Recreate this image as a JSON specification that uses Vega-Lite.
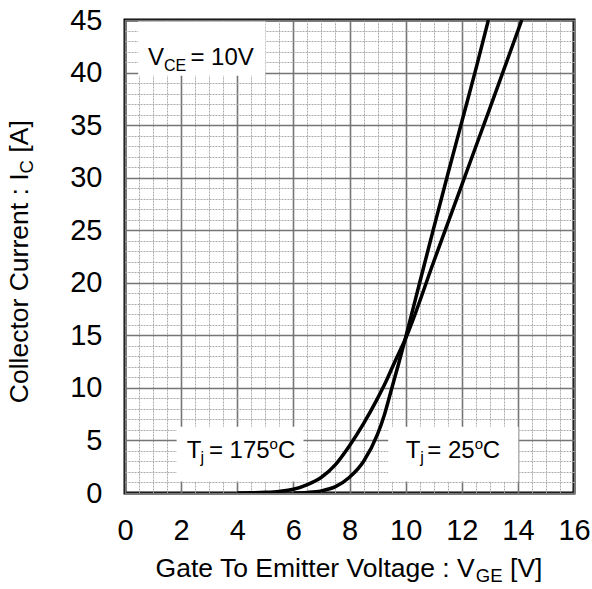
{
  "$schema": "https://vega.github.io/schema/vega-lite/v6.json",
  "width": 449,
  "height": 473,
  "autosize": {"type": "none"},
  "padding": {"left": 125, "top": 20, "right": 18, "bottom": 96},
  "background": "white",
  "config": {
    "view": {"stroke": "black", "strokeWidth": 3},
    "font": "Liberation Sans",
    "text": {"font": "Liberation Sans", "color": "black"}
  },
  "resolve": {"axis": {"x": "independent", "y": "independent"}},
  "datasets": {
    "curves": [
      {"series": "175", "vge": 4.0, "ic": 0},
      {"series": "175", "vge": 4.5, "ic": 0.02},
      {"series": "175", "vge": 5.0, "ic": 0.06},
      {"series": "175", "vge": 5.5, "ic": 0.15},
      {"series": "175", "vge": 6.0, "ic": 0.35},
      {"series": "175", "vge": 6.5, "ic": 0.8},
      {"series": "175", "vge": 7.0, "ic": 1.5},
      {"series": "175", "vge": 7.5, "ic": 2.7},
      {"series": "175", "vge": 8.0, "ic": 4.5},
      {"series": "175", "vge": 8.5, "ic": 6.6},
      {"series": "175", "vge": 9.0, "ic": 9.0},
      {"series": "175", "vge": 9.3, "ic": 10.6},
      {"series": "175", "vge": 9.6, "ic": 12.4},
      {"series": "175", "vge": 10.0, "ic": 14.7},
      {"series": "175", "vge": 11.0, "ic": 22.0},
      {"series": "175", "vge": 12.0, "ic": 29.3},
      {"series": "175", "vge": 13.0, "ic": 36.6},
      {"series": "175", "vge": 14.14, "ic": 45},
      {"series": "25", "vge": 6.0, "ic": 0},
      {"series": "25", "vge": 6.5, "ic": 0.05},
      {"series": "25", "vge": 7.0, "ic": 0.2},
      {"series": "25", "vge": 7.5, "ic": 0.6},
      {"series": "25", "vge": 8.0, "ic": 1.5},
      {"series": "25", "vge": 8.5, "ic": 3.0},
      {"series": "25", "vge": 9.0, "ic": 5.6},
      {"series": "25", "vge": 9.25, "ic": 7.5},
      {"series": "25", "vge": 9.5, "ic": 9.9},
      {"series": "25", "vge": 9.75, "ic": 12.3},
      {"series": "25", "vge": 10.0, "ic": 14.8},
      {"series": "25", "vge": 10.5, "ic": 20.0},
      {"series": "25", "vge": 11.0, "ic": 25.2},
      {"series": "25", "vge": 11.5, "ic": 30.3},
      {"series": "25", "vge": 12.0, "ic": 35.3},
      {"series": "25", "vge": 12.5, "ic": 40.3},
      {"series": "25", "vge": 12.95, "ic": 45}
    ],
    "boxes": [
      {"name": "vce", "x1": 0.47, "x2": 5.0, "y1": 39.7, "y2": 44.85},
      {"name": "t175", "x1": 1.84, "x2": 6.36, "y1": 1.1, "y2": 6.3},
      {"name": "t25", "x1": 9.38, "x2": 14.02, "y1": 1.1, "y2": 6.3}
    ],
    "labels": [
      {"x": 0.82, "y": 40.72, "text": "V", "role": "annot"},
      {"x": 1.39, "y": 40.15, "text": "CE", "role": "annot-sub"},
      {"x": 2.33, "y": 40.72, "text": "= 10V", "role": "annot"},
      {"x": 2.2, "y": 3.3, "text": "T", "role": "annot"},
      {"x": 2.69, "y": 2.83, "text": "j", "role": "annot-sub"},
      {"x": 2.99, "y": 3.3, "text": "= 175", "role": "annot"},
      {"x": 5.15, "y": 4.2, "text": "o", "role": "annot-sup"},
      {"x": 5.45, "y": 3.3, "text": "C", "role": "annot"},
      {"x": 10.0, "y": 3.3, "text": "T", "role": "annot"},
      {"x": 10.52, "y": 2.83, "text": "j", "role": "annot-sub"},
      {"x": 10.77, "y": 3.3, "text": "= 25", "role": "annot"},
      {"x": 12.46, "y": 4.2, "text": "o", "role": "annot-sup"},
      {"x": 12.75, "y": 3.3, "text": "C", "role": "annot"},
      {"x": 1.09, "y": -8.0, "text": "Gate To Emitter Voltage : V", "role": "xtitle"},
      {"x": 12.5, "y": -8.49, "text": "GE", "role": "xtitle-sub"},
      {"x": 13.72, "y": -8.0, "text": "[V]", "role": "xtitle"},
      {"x": -3.45, "y": 8.54, "text": "Collector Current : I", "role": "ytitle"},
      {"x": -3.27, "y": 30.4, "text": "C", "role": "ytitle-sub"},
      {"x": -3.45, "y": 32.38, "text": "[A]", "role": "ytitle"}
    ]
  },
  "layer": [
    {
      "data": {"name": "boxes"},
      "mark": {"type": "rect", "fill": "white", "stroke": null},
      "encoding": {
        "x": {
          "field": "x1", "type": "quantitative",
          "scale": {"domain": [0, 16], "nice": false, "zero": false},
          "axis": {
            "orient": "bottom",
            "title": null,
            "values": [0,0.5,1,1.5,2,2.5,3,3.5,4,4.5,5,5.5,6,6.5,7,7.5,8,8.5,9,9.5,10,10.5,11,11.5,12,12.5,13,13.5,14,14.5,15,15.5,16],
            "labels": false,
            "ticks": false,
            "domain": false,
            "grid": true,
            "gridColor": "#ababab",
            "gridWidth": 1,
            "gridDash": [2, 1]
          }
        },
        "x2": {"field": "x2"},
        "y": {
          "field": "y1", "type": "quantitative",
          "scale": {"domain": [0, 45], "nice": false, "zero": false},
          "axis": {
            "orient": "left",
            "title": null,
            "values": [0,1,2,3,4,5,6,7,8,9,10,11,12,13,14,15,16,17,18,19,20,21,22,23,24,25,26,27,28,29,30,31,32,33,34,35,36,37,38,39,40,41,42,43,44,45],
            "labels": false,
            "ticks": false,
            "domain": false,
            "grid": true,
            "gridColor": "#ababab",
            "gridWidth": 1,
            "gridDash": [2, 1]
          }
        },
        "y2": {"field": "y2"}
      }
    },
    {
      "data": {"name": "curves"},
      "mark": {"type": "line", "color": "black", "strokeWidth": 3.5, "interpolate": "monotone", "clip": true},
      "encoding": {
        "x": {
          "field": "vge", "type": "quantitative",
          "axis": {
            "orient": "bottom",
            "title": null,
            "values": [0, 2, 4, 6, 8, 10, 12, 14, 16],
            "labelFont": "Liberation Sans",
            "labelFontSize": 29,
            "labelColor": "black",
            "labelBaseline": "alphabetic",
            "labelPadding": 46,
            "labelFlush": false,
            "labelOverlap": false,
            "ticks": false,
            "domain": false,
            "grid": true,
            "gridColor": "#757575",
            "gridWidth": 1.6
          }
        },
        "y": {
          "field": "ic", "type": "quantitative",
          "axis": {
            "orient": "left",
            "title": null,
            "values": [0, 5, 10, 15, 20, 25, 30, 35, 40, 45],
            "labelFont": "Liberation Sans",
            "labelFontSize": 29,
            "labelColor": "black",
            "labelPadding": 23,
            "labelFlush": false,
            "labelOverlap": false,
            "ticks": false,
            "domain": false,
            "grid": true,
            "gridColor": "#757575",
            "gridWidth": 1.6
          }
        },
        "detail": {"field": "series", "type": "nominal"}
      }
    },
    {
      "data": {"name": "labels"},
      "transform": [{"filter": "datum.role === 'annot'"}],
      "mark": {"type": "text", "align": "left", "baseline": "alphabetic", "fontSize": 24, "font": "Liberation Sans", "color": "black"},
      "encoding": {
        "x": {"field": "x", "type": "quantitative", "axis": null},
        "y": {"field": "y", "type": "quantitative", "axis": null},
        "text": {"field": "text"}
      }
    },
    {
      "data": {"name": "labels"},
      "transform": [{"filter": "datum.role === 'annot-sub'"}],
      "mark": {"type": "text", "align": "left", "baseline": "alphabetic", "fontSize": 16, "font": "Liberation Sans", "color": "black"},
      "encoding": {
        "x": {"field": "x", "type": "quantitative", "axis": null},
        "y": {"field": "y", "type": "quantitative", "axis": null},
        "text": {"field": "text"}
      }
    },
    {
      "data": {"name": "labels"},
      "transform": [{"filter": "datum.role === 'annot-sup'"}],
      "mark": {"type": "text", "align": "left", "baseline": "alphabetic", "fontSize": 15, "font": "Liberation Sans", "color": "black"},
      "encoding": {
        "x": {"field": "x", "type": "quantitative", "axis": null},
        "y": {"field": "y", "type": "quantitative", "axis": null},
        "text": {"field": "text"}
      }
    },
    {
      "data": {"name": "labels"},
      "transform": [{"filter": "datum.role === 'xtitle'"}],
      "mark": {"type": "text", "align": "left", "baseline": "alphabetic", "fontSize": 26.5, "font": "Liberation Sans", "color": "black", "clip": false},
      "encoding": {
        "x": {"field": "x", "type": "quantitative", "axis": null},
        "y": {"field": "y", "type": "quantitative", "axis": null},
        "text": {"field": "text"}
      }
    },
    {
      "data": {"name": "labels"},
      "transform": [{"filter": "datum.role === 'xtitle-sub'"}],
      "mark": {"type": "text", "align": "left", "baseline": "alphabetic", "fontSize": 18.5, "font": "Liberation Sans", "color": "black", "clip": false},
      "encoding": {
        "x": {"field": "x", "type": "quantitative", "axis": null},
        "y": {"field": "y", "type": "quantitative", "axis": null},
        "text": {"field": "text"}
      }
    },
    {
      "data": {"name": "labels"},
      "transform": [{"filter": "datum.role === 'ytitle'"}],
      "mark": {"type": "text", "align": "left", "baseline": "alphabetic", "angle": 270, "fontSize": 26.5, "font": "Liberation Sans", "color": "black", "clip": false},
      "encoding": {
        "x": {"field": "x", "type": "quantitative", "axis": null},
        "y": {"field": "y", "type": "quantitative", "axis": null},
        "text": {"field": "text"}
      }
    },
    {
      "data": {"name": "labels"},
      "transform": [{"filter": "datum.role === 'ytitle-sub'"}],
      "mark": {"type": "text", "align": "left", "baseline": "alphabetic", "angle": 270, "fontSize": 18.5, "font": "Liberation Sans", "color": "black", "clip": false},
      "encoding": {
        "x": {"field": "x", "type": "quantitative", "axis": null},
        "y": {"field": "y", "type": "quantitative", "axis": null},
        "text": {"field": "text"}
      }
    }
  ]
}
